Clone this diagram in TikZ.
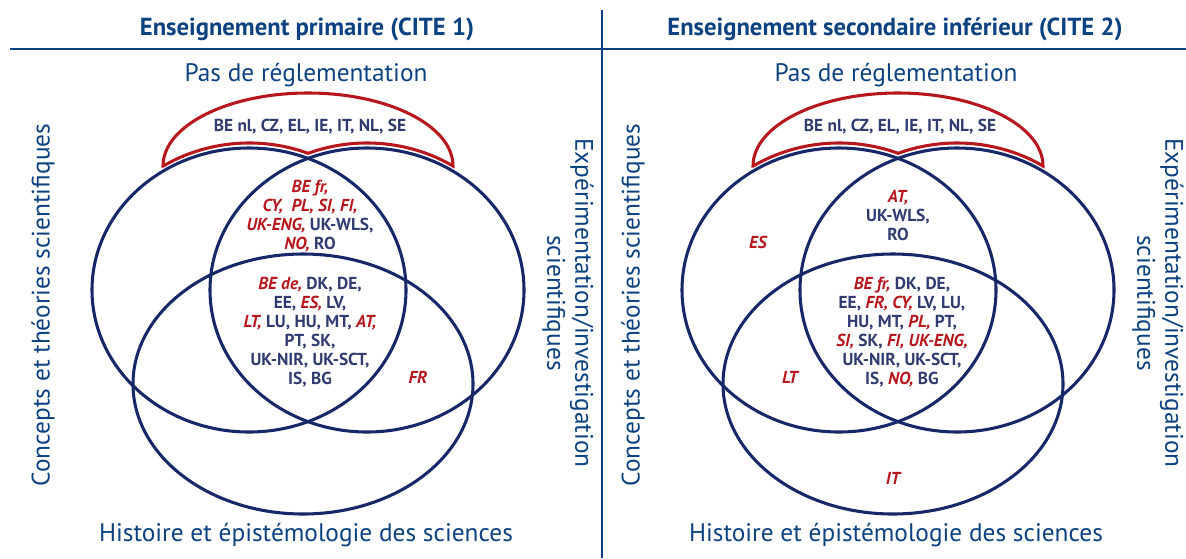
\documentclass[tikz,border=0pt]{standalone}
\usepackage{fontspec}
\setmainfont{PT Sans}
\definecolor{navy}{RGB}{22,40,104}
\definecolor{capblue}{RGB}{12,66,128}
\definecolor{codeblue}{RGB}{48,60,112}
\definecolor{flag}{RGB}{182,22,28}
\tikzset{
  set/.style={draw=navy,line width=2.3pt},
  norule/.style={draw=flag,line width=2.3pt},
  head/.style={font=\fontsize{18.5}{21}\selectfont\bfseries,text=capblue},
  axis/.style={font=\fontsize{19}{21}\selectfont,text=capblue,align=center},
  codes/.style={font=\fontsize{13}{14.25}\selectfont\bfseries,text=codeblue,align=center},
}
% countries shown in red italics
\newcommand{\hl}[1]{\textcolor{flag}{\itshape #1}}

\begin{document}
\begin{tikzpicture}[x=0.75pt,y=-0.75pt]
  \useasboundingbox (0,0) rectangle (1186,558);
  \draw[capblue,line width=2.2pt] (10,49) -- (1186,49);
  \draw[capblue,line width=1.4pt] (602,10) -- (602,558);
  \node[head] (prim) at (307,29) {Enseignement primaire (CITE 1)};
  \node[head] (sec) at (895,29) {Enseignement secondaire inférieur (CITE 2)};
  % the same three sets and the dome in both halves
  \foreach \dx [count=\i] in {0,590}{
    \begin{scope}[shift={(\dx,0)}]
      \draw[norule] (163,166) arc[start angle=180,end angle=360,x radius=145,y radius=73]
        arc[start angle=302.5,end angle=248.4,x radius=160,y radius=147]
        arc[start angle=291.6,end angle=237.5,x radius=160,y radius=147] -- cycle;
      \draw[set] (249,290) ellipse[x radius=157,y radius=142];
      \draw[set] (367,290) ellipse[x radius=157,y radius=142];
      \draw[set] (303,384) ellipse[x radius=170,y radius=130];
      \node[axis] (top\i) at (306,75) {Pas de réglementation};
      \node[axis,rotate=90] (left\i) at (43,305) {Concepts et théories scientifiques};
      \node[axis,rotate=-90] (right\i) at (568,303) {Expérimentation/investigation\\scientifiques};
      \node[axis] (bottom\i) at (306,535) {Histoire et épistémologie des sciences};
      \node[codes] (none\i) at (310,127) {BE nl, CZ, EL, IE, IT, NL, SE};
    \end{scope}
  }
  % primary
  \node[codes] (pair1) at (310,216) {\hl{BE fr,}\\\hl{CY,~ PL, SI, FI,}\\\hl{UK-ENG,} UK-WLS,\\\hl{NO,} RO};
  \node[codes] (all1) at (310,332) {\hl{BE de,} DK, DE,\\EE, \hl{ES,} LV,\\\hl{LT,} LU, HU, MT, \hl{AT,}\\PT, SK,\\UK-NIR, UK-SCT,\\IS, BG};
  \node[codes] (fr1) at (418,377) {\hl{FR}};
  % lower secondary
  \node[codes] (pair2) at (898,216) {\hl{AT,}\\UK-WLS,\\RO};
  \node[codes] (es2) at (758,242) {\hl{ES}};
  \node[codes] (all2) at (902,332) {\hl{BE fr,} DK, DE,\\EE, \hl{FR, CY,} LV, LU,\\HU, MT, \hl{PL,} PT,\\\hl{SI,} SK, \hl{FI, UK-ENG,}\\UK-NIR, UK-SCT,\\IS, \hl{NO,} BG};
  \node[codes] (lt2) at (790,377) {\hl{LT}};
  \node[codes] (it2) at (893,478) {\hl{IT}};
\end{tikzpicture}
\end{document}
